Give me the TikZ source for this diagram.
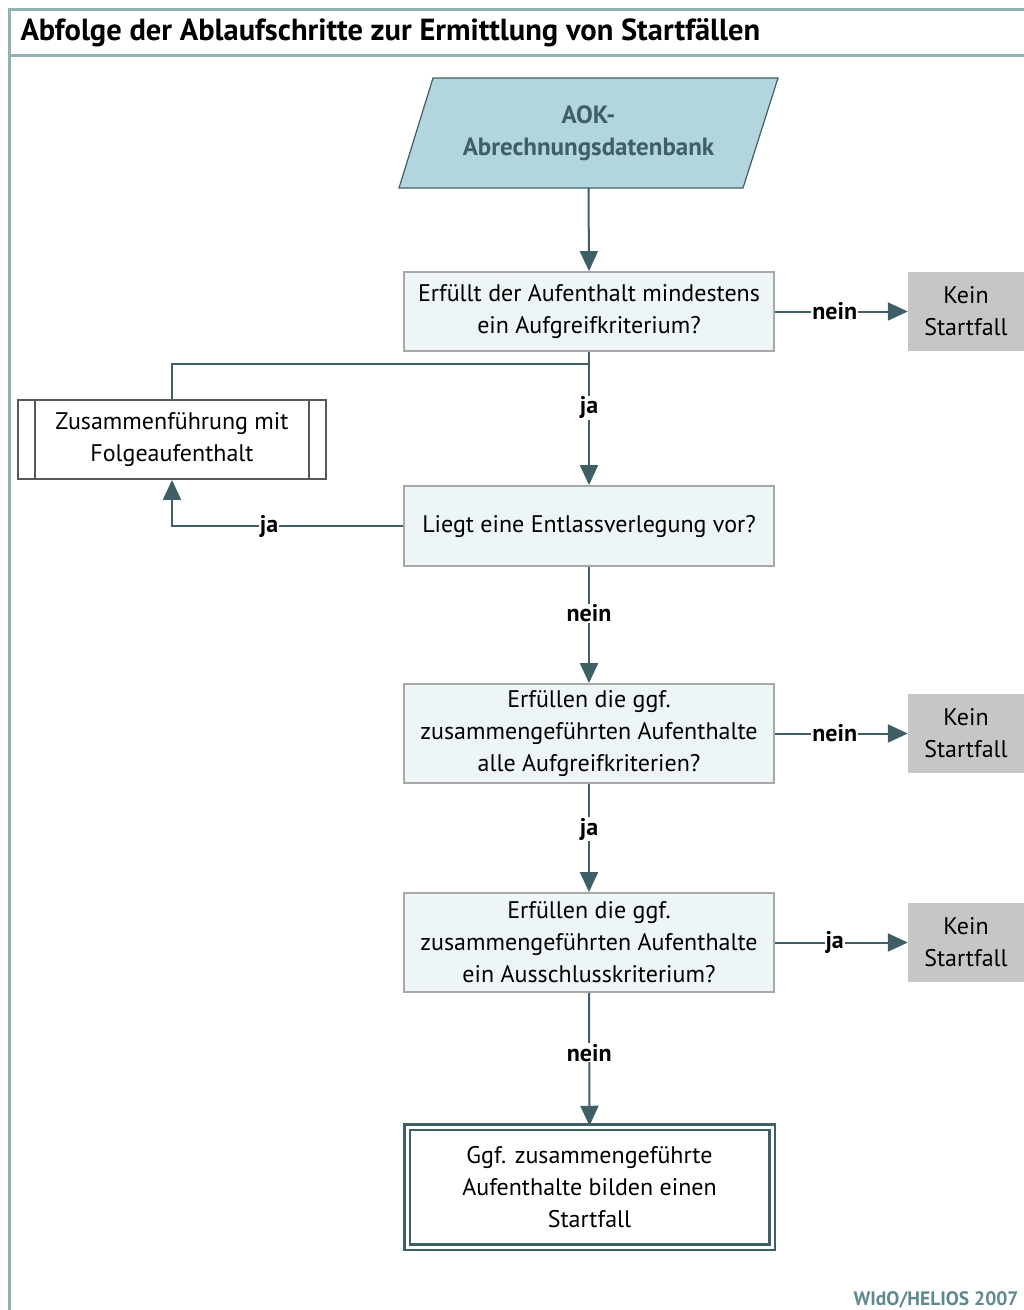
\documentclass[tikz,border=0pt]{standalone}
\usepackage{fontspec}
\setmainfont{PT Sans}
\usetikzlibrary{arrows.meta}

\definecolor{linecol}{HTML}{3E5F66}
\definecolor{framecol}{HTML}{8FB1B6}
\definecolor{dbfill}{HTML}{B3D5DD}
\definecolor{boxfill}{HTML}{EEF5F7}
\definecolor{boxline}{HTML}{A8A8A8}
\definecolor{subline}{HTML}{585858}
\definecolor{keinfill}{HTML}{C6C6C6}
\definecolor{footcol}{HTML}{5F8990}

\begin{document}
\begin{tikzpicture}[x=1pt, y=-1pt,
    every node/.style={font=\fontsize{24}{32}\selectfont},
    box/.style={draw=boxline, fill=boxfill, line width=1.8pt, minimum width=370, minimum height=79, align=center, inner sep=0pt},
    kein/.style={fill=keinfill, minimum width=116, minimum height=79, align=center, inner sep=0pt},
    dbshape/.style={draw=linecol, fill=dbfill, line width=1.2pt},
    db/.style={minimum width=310, minimum height=110, align=center, inner sep=0pt,
        text=linecol, font=\fontsize{25}{32}\selectfont\bfseries},
    sub/.style={draw=subline, line width=1.8pt, minimum width=308, minimum height=79, align=center, inner sep=0pt},
    final/.style={draw=linecol, double=white, double distance=3pt, line width=2.5pt, minimum width=365, minimum height=120, align=center, inner sep=0pt},
    line/.style={draw=linecol, line width=2pt},
    arr/.style={line, -{Triangle[length=20pt, width=18pt]}},
    lbl/.style={fill=white, inner sep=1pt, font=\fontsize{24}{32}\selectfont\bfseries}
  ]

    \useasboundingbox (0,0) rectangle (1024,1310);

    % frame
    \draw[framecol, line width=3pt] (1024,9) -- (9,9) -- (9,1310);
    \draw[framecol, line width=3pt] (9,55) -- (1024,55);
    \node[anchor=west, font=\fontsize{30.5}{32}\selectfont\bfseries] (title) at (17,33) {Abfolge der Ablaufschritte zur Ermittlung von Startfällen};

    \draw[dbshape] (433,78) -- (778,78) -- (743,188) -- (399,188) -- cycle;
    \node[db] (aok) at (588.5,133) {AOK-\\Abrechnungsdatenbank};

    \node[box] (q1) at (589,311.5) {Erfüllt der Aufenthalt mindestens\\ein Aufgreifkriterium?};
    \node[kein] (k1) at (966,311.5) {Kein\\Startfall};

    \node[sub] (zus) at (172,439.5) {Zusammenführung mit\\Folgeaufenthalt};
    \draw[subline, line width=1.8pt] ([xshift=18pt]zus.north west) -- ([xshift=18pt]zus.south west);
    \draw[subline, line width=1.8pt] ([xshift=-18pt]zus.north east) -- ([xshift=-18pt]zus.south east);

    \node[box, minimum height=80] (q2) at (589,526) {Liegt eine Entlassverlegung vor?};

    \node[box, minimum height=99] (q3) at (589,733.5) {Erfüllen die ggf.\\zusammengeführten Aufenthalte\\alle Aufgreifkriterien?};
    \node[kein] (k2) at (966,733.5) {Kein\\Startfall};

    \node[box, minimum height=99] (q4) at (589,942.5) {Erfüllen die ggf.\\zusammengeführten Aufenthalte\\ein Ausschlusskriterium?};
    \node[kein] (k3) at (966,942.5) {Kein\\Startfall};

    \node[final] (end) at (589.5,1187) {Ggf. zusammengeführte\\Aufenthalte bilden einen\\Startfall};

    \node[anchor=east, text=footcol, font=\fontsize{19.5}{24}\selectfont\bfseries] (src) at (1022,1300) {WIdO/HELIOS 2007};

    % connectors
    \coordinate (split) at (589,364);
    \draw[arr] (aok.south) -- (q1.north);
    \draw[arr] (q1.east) -- node[lbl, pos=0.45] {nein} (k1.west);
    \draw[arr] (q1.south) -- node[lbl, pos=0.42] {ja} (q2.north);
    \draw[line] (split) -| (zus.north);
    \draw[arr] (q2.west) -| node[lbl, pos=0.29] {ja} (zus.south);
    \draw[arr] (q2.south) -- node[lbl, pos=0.4] {nein} (q3.north);
    \draw[arr] (q3.east) -- node[lbl, pos=0.45] {nein} (k2.west);
    \draw[arr] (q3.south) -- node[lbl, pos=0.42] {ja} (q4.north);
    \draw[arr] (q4.east) -- node[lbl, pos=0.45] {ja} (k3.west);
    \draw[arr] (q4.south) -- node[lbl, pos=0.45] {nein} (end.north);

\end{tikzpicture}
\end{document}
